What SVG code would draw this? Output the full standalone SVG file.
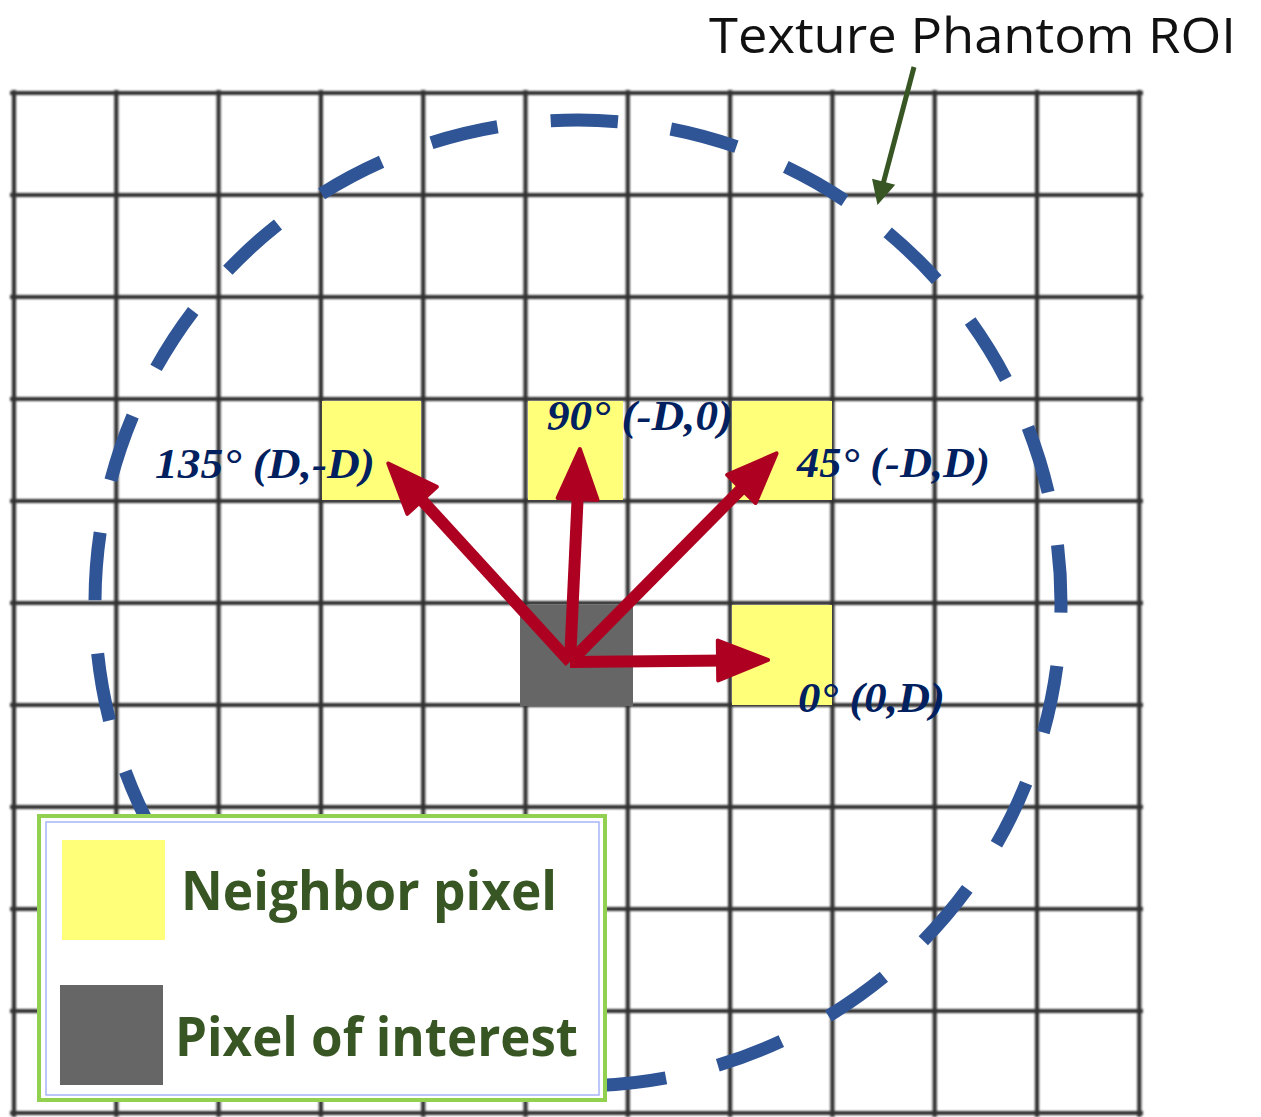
<svg xmlns="http://www.w3.org/2000/svg" width="1261" height="1117" viewBox="0 0 1261 1117">
<defs>
<style>
.grid line{stroke:#333333;stroke-width:4.2}
.nb{fill:#FFFF7A}
.poi{fill:#666666}
.lbl{font-family:"Liberation Serif",serif;font-weight:bold;font-style:italic;font-size:42px;fill:#002060}
.leg{font-family:"Open Sans",sans-serif;font-weight:bold;font-size:53px;fill:#375623}
.arr{stroke:#AE0021;stroke-width:12;fill:none;marker-end:url(#rh)}
</style>
<filter id="soft" x="-2%" y="-2%" width="104%" height="104%"><feGaussianBlur stdDeviation="1"/></filter>
<marker id="rh" markerUnits="userSpaceOnUse" markerWidth="56" markerHeight="46" viewBox="0 0 56 46" refX="12" refY="23" orient="auto"><path d="M3,3 L53,23 L3,43 Z" fill="#AE0021" stroke="#AE0021" stroke-width="4" stroke-linejoin="round"/></marker>
<marker id="gh" markerUnits="userSpaceOnUse" markerWidth="26" markerHeight="28" viewBox="0 0 26 28" refX="7" refY="14" orient="auto"><path d="M1,2 L25,14 L1,26 Z" fill="#375623"/></marker>
</defs>
<rect width="1261" height="1117" fill="#ffffff"/>
<g class="grid" filter="url(#soft)">
<line x1="14" y1="90" x2="14" y2="1117"/>
<line x1="116.3" y1="90" x2="116.3" y2="1117"/>
<line x1="218.6" y1="90" x2="218.6" y2="1117"/>
<line x1="320.9" y1="90" x2="320.9" y2="1117"/>
<line x1="423.2" y1="90" x2="423.2" y2="1117"/>
<line x1="525.5" y1="90" x2="525.5" y2="1117"/>
<line x1="627.8" y1="90" x2="627.8" y2="1117"/>
<line x1="730.1" y1="90" x2="730.1" y2="1117"/>
<line x1="832.4" y1="90" x2="832.4" y2="1117"/>
<line x1="934.7" y1="90" x2="934.7" y2="1117"/>
<line x1="1037" y1="90" x2="1037" y2="1117"/>
<line x1="1139.3" y1="90" x2="1139.3" y2="1117"/>
<line x1="10" y1="93" x2="1143" y2="93"/>
<line x1="10" y1="195" x2="1143" y2="195"/>
<line x1="10" y1="297" x2="1143" y2="297"/>
<line x1="10" y1="399" x2="1143" y2="399"/>
<line x1="10" y1="501" x2="1143" y2="501"/>
<line x1="10" y1="603" x2="1143" y2="603"/>
<line x1="10" y1="705" x2="1143" y2="705"/>
<line x1="10" y1="807" x2="1143" y2="807"/>
<line x1="10" y1="909" x2="1143" y2="909"/>
<line x1="10" y1="1011" x2="1143" y2="1011"/>
<line x1="10" y1="1113" x2="1143" y2="1113"/>
</g>
<g id="neighbor-135"><rect class="nb" x="322" y="401" width="99" height="99"/></g>
<g id="neighbor-90"><rect class="nb" x="528" y="401" width="95" height="99"/></g>
<g id="neighbor-45"><rect class="nb" x="732" y="401" width="100" height="99"/></g>
<g id="neighbor-0"><rect class="nb" x="732" y="605" width="100" height="100"/></g>
<g id="pixel-of-interest"><rect class="poi" x="520" y="605" width="113" height="101"/></g>
<g id="roi-circle"><path d="M578,120 A483,483 0 1 1 578,1086 A483,483 0 1 1 578,120 Z" fill="none" stroke="#2F5597" stroke-width="13" stroke-dasharray="68 53.39" stroke-dashoffset="28"/></g>
<g id="connectors">
<line class="arr" x1="570" y1="662" x2="727" y2="660.4"/>
<line class="arr" x1="570" y1="662" x2="578" y2="490"/>
<line class="arr" x1="570" y1="662" x2="747.7" y2="482.5"/>
<line class="arr" x1="570" y1="662" x2="416" y2="493.7"/>
<line x1="914" y1="67" x2="882.1" y2="187.6" stroke="#375623" stroke-width="5" marker-end="url(#gh)"/>
</g>
<g id="labels">
<text class="lbl" x="155" y="478" textLength="220" lengthAdjust="spacingAndGlyphs">135° (D,-D)</text>
<text class="lbl" x="547" y="430" textLength="186" lengthAdjust="spacingAndGlyphs">90° (-D,0)</text>
<text class="lbl" x="797" y="477" textLength="193" lengthAdjust="spacingAndGlyphs">45° (-D,D)</text>
<text class="lbl" x="798" y="712" textLength="147" lengthAdjust="spacingAndGlyphs">0° (0,D)</text>
</g>
<g id="title"><text x="709" y="53" font-family="'Open Sans',sans-serif" font-size="49" fill="#111111" textLength="527" lengthAdjust="spacingAndGlyphs">Texture Phantom ROI</text></g>
<g id="legend">
<rect x="39" y="816" width="566" height="284" fill="#ffffff" stroke="#92D050" stroke-width="4"/>
<rect x="46" y="822" width="553" height="273" fill="none" stroke="#A8B4F8" stroke-width="1.5"/>
<rect class="nb" x="62" y="840" width="103" height="100"/>
<rect class="poi" x="60" y="985" width="103" height="100"/>
<text class="leg" x="181" y="910" textLength="376" lengthAdjust="spacingAndGlyphs">Neighbor pixel</text>
<text class="leg" x="175" y="1056" textLength="403" lengthAdjust="spacingAndGlyphs">Pixel of interest</text>
</g>
</svg>
